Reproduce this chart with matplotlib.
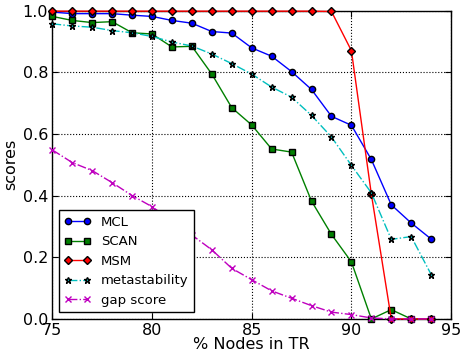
import matplotlib
matplotlib.use("Agg")
import matplotlib.pyplot as plt

x = list(range(75, 95))
mcl = [0.995, 0.99, 0.99, 0.99, 0.985, 0.981, 0.968, 0.959, 0.932, 0.927,
       0.879, 0.852, 0.802, 0.744, 0.657, 0.628, 0.517, 0.370, 0.311, 0.259]
scan = [0.981, 0.968, 0.961, 0.964, 0.928, 0.924, 0.882, 0.884, 0.794, 0.685,
        0.629, 0.551, 0.541, 0.382, 0.274, 0.185, 0.0, 0.03, 0.0, 0.0]
msm = [0.998, 0.998, 0.998, 0.998, 0.998, 0.998, 0.998, 0.998, 0.998, 0.998,
       0.998, 0.998, 0.998, 0.998, 0.997, 0.870, 0.405, 0.0, 0.0, 0.0]
meta = [0.957, 0.950, 0.946, 0.935, 0.928, 0.916, 0.898, 0.885, 0.859, 0.828,
        0.794, 0.752, 0.719, 0.660, 0.590, 0.498, 0.409, 0.258, 0.267, 0.144]
gap = [0.548, 0.507, 0.481, 0.442, 0.400, 0.364, 0.318, 0.272, 0.224, 0.164,
       0.127, 0.091, 0.067, 0.043, 0.022, 0.014, 0.003, 0.0, 0.0, 0.0]

plt.rcParams['font.family'] = ['DejaVu Sans']
fig = plt.figure(figsize=(4.61, 3.52), dpi=100)
ax = fig.add_axes([0.1135, 0.094, 0.865, 0.876])

ax.plot(x, mcl, '-', color='blue', marker='o', mfc='blue', mec='k', ms=4.5, lw=1, label='MCL', clip_on=False, zorder=3)
ax.plot(x, scan, '-', color='green', marker='s', mfc='green', mec='k', ms=4.5, lw=1, label='SCAN', clip_on=False, zorder=3)
ax.plot(x, msm, '-', color='red', marker='D', mfc='red', mec='k', ms=4, lw=1, label='MSM', clip_on=False, zorder=3)
ax.plot(x, meta, '-.', color='c', marker='*', mfc='c', mec='k', ms=5, lw=1, label='metastability', clip_on=False, zorder=3)
ax.plot(x, gap, '-.', color='m', marker='x', mfc='m', mec='m', ms=5, lw=1, label='gap score', clip_on=False, zorder=3)

ax.set_xlim(75, 95)
ax.set_ylim(0, 1.0)
ax.set_xticks([75, 80, 85, 90, 95])
ax.set_yticks([0.0, 0.2, 0.4, 0.6, 0.8, 1.0])
ax.set_yticklabels(['0.0', '0.2', '0.4', '0.6', '0.8', '1.0'])
ax.tick_params(labelsize=11.5, direction='in', top=True, right=True, length=4, pad=3)
ax.grid(True, color='k', linestyle=':', linewidth=0.8)
ax.set_axisbelow(True)
for s in ax.spines.values():
    s.set_linewidth(1)
ax.set_xlabel('% Nodes in TR', fontsize=11.5, labelpad=-1)
ax.set_ylabel('scores', fontsize=11.5, labelpad=3)

leg = ax.legend(loc='lower left', fontsize=9.5, numpoints=2, borderaxespad=0.5,
                fancybox=False, framealpha=1, edgecolor='k', handlelength=2.0, labelspacing=0.5)
leg.get_frame().set_linewidth(1)

fig.savefig('out.png', dpi=100, facecolor='white')
